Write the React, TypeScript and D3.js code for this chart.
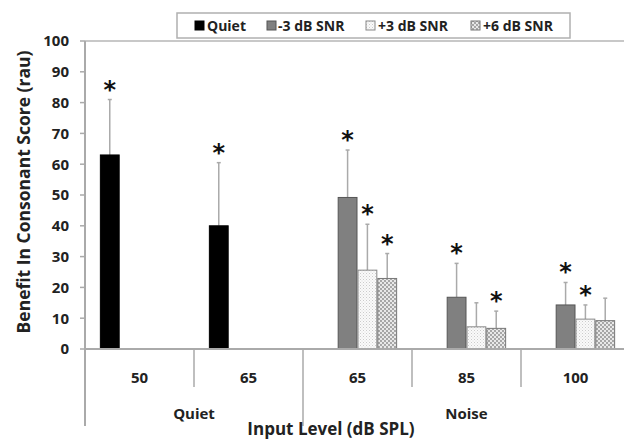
import React from "react";
import * as d3 from "d3";

const categories = ["50", "65", "65", "85", "100"];
const groups = [
  { label: "Quiet", from: 0, to: 2 },
  { label: "Noise", from: 2, to: 5 },
];
const seriesNames = ["Quiet", "-3 dB SNR", "+3 dB SNR", "+6 dB SNR"];
// values per category, per series (null = none)
const quietVals = [63, 40, null, null, null];
const snrM3Vals = [null, null, 49.2, 16.8, 14.3];
const snrP3Vals = [null, null, 25.6, 7.2, 9.7];
const snrP6Vals = [null, null, 22.9, 6.7, 9.2];
const quietErr = [18, 20.5, null, null, null];
const snrM3Err = [null, null, 15.4, 11, 7.3];
const snrP3Err = [null, null, 14.9, 7.8, 4.6];
const snrP6Err = [null, null, 8.1, 5.6, 7.3];
const quietSig = [true, true, false, false, false];
const snrM3Sig = [false, false, true, true, true];
const snrP3Sig = [false, false, true, false, true];
const snrP6Sig = [false, false, true, true, false];
const yTicks = [0, 10, 20, 30, 40, 50, 60, 70, 80, 90, 100];

const FONT = "'Open Sans', sans-serif";

export default function App() {
  const W = 624, H = 439;
  const x0 = 85, catW = 109;
  const x = d3.scaleBand<string>().domain(categories.map((_, i) => String(i))).range([x0, x0 + catW * 5]).paddingInner(0).paddingOuter(0);
  const xs = d3.scaleBand<string>().domain(seriesNames).range([0, catW]).paddingOuter(0.75).paddingInner(0);
  const y = d3.scaleLinear().domain([0, 100]).range([349, 41]);
  const vals = [quietVals, snrM3Vals, snrP3Vals, snrP6Vals];
  const errs = [quietErr, snrM3Err, snrP3Err, snrP6Err];
  const sigs = [quietSig, snrM3Sig, snrP3Sig, snrP6Sig];
  const fills = ["#000", "#808080", "url(#pLight)", "url(#pDots)"];
  const strokes = ["#000", "#555", "#888", "#777"];
  const axisCol = "#aaa";
  const txt = "#222";

  const legendItems = [
    { name: "Quiet", sx: 195, tx: 207 },
    { name: "-3 dB SNR", sx: 267, tx: 278 },
    { name: "+3 dB SNR", sx: 366, tx: 378 },
    { name: "+6 dB SNR", sx: 471, tx: 483 },
  ];

  return (
    <svg width={W} height={H} style={{ position: "absolute", left: 0, top: 0, background: "#fff" }} fontFamily={FONT}>
      <defs>
        <pattern id="pLight" width="3" height="3" patternUnits="userSpaceOnUse">
          <rect width="3" height="3" fill="#fafafa" />
          <rect x="0" y="0" width="1" height="1" fill="#ccc" />
          <rect x="1.5" y="1.5" width="1" height="1" fill="#ddd" />
        </pattern>
        <pattern id="pDots" width="4" height="4" patternUnits="userSpaceOnUse">
          <rect width="4" height="4" fill="#e8e8e8" />
          <circle cx="1" cy="1" r="0.9" fill="#888" />
          <circle cx="3" cy="3" r="0.9" fill="#888" />
        </pattern>
      </defs>
      <rect width={W} height={H} fill="#fff" />
      {/* top border line */}
      <line x1={x0} x2={W} y1={y(100)} y2={y(100)} stroke="#c8c8c8" strokeWidth={2} />
      {/* y axis */}
      <line x1={x0} x2={x0} y1={y(100)} y2={426} stroke={axisCol} strokeWidth={2} />
      {yTicks.map((t) => (
        <g key={t}>
          <line x1={x0 - 5} x2={x0} y1={y(t)} y2={y(t)} stroke={axisCol} strokeWidth={1.5} />
          <text x={69} y={y(t)} dy="0.36em" textAnchor="end" fontSize={15} fontWeight="bold" fill={txt}>{t}</text>
        </g>
      ))}
      <text transform={`translate(30,${192}) rotate(-90)`} textAnchor="middle" fontSize={17.5} fontWeight="bold" fill={txt}>Benefit In Consonant Score (rau)</text>
      {/* bars */}
      {categories.map((c, ci) =>
        seriesNames.map((s, si) => {
          const v = vals[si][ci];
          if (v == null) return null;
          const bx = (x(String(ci)) as number) + (xs(s) as number);
          const bw = xs.bandwidth();
          const cx = bx + bw / 2;
          const e = errs[si][ci] as number;
          const ty = y(v + e);
          return (
            <g key={ci + "-" + si}>
              <line x1={cx} x2={cx} y1={y(v)} y2={ty} stroke="#aaa" strokeWidth={1.5} />
              <line x1={cx - 2} x2={cx + 2} y1={ty} y2={ty} stroke="#aaa" strokeWidth={1.5} />
              <rect x={bx + 0.5} y={y(v)} width={bw - 1} height={y(0) - y(v)} fill={fills[si]} stroke={strokes[si]} strokeWidth={1} />
              {sigs[si][ci] && (
                <text x={cx} y={ty - 2} textAnchor="middle" fontSize={24} fontWeight="bold" fill="#111" fontFamily="'DejaVu Sans', sans-serif">*</text>
              )}
            </g>
          );
        })
      )}
      {/* x axis */}
      <line x1={x0} x2={W} y1={y(0)} y2={y(0)} stroke={axisCol} strokeWidth={2} />
      {categories.map((c, ci) => {
        const left = x(String(ci)) as number;
        const isGroupEdge = groups.some((g) => g.from === ci);
        return (
          <g key={ci}>
            {ci > 0 && <line x1={left} x2={left} y1={y(0)} y2={isGroupEdge ? 426 : 387} stroke={axisCol} strokeWidth={1.5} />}
            <text x={left + catW / 2} y={378} dy="0.36em" textAnchor="middle" fontSize={15} fontWeight="bold" fill={txt}>{c}</text>
          </g>
        );
      })}
      {groups.map((g) => {
        const a = x(String(g.from)) as number;
        const b = a + catW * (g.to - g.from);
        return (
          <text key={g.label} x={(a + b) / 2} y={414} dy="0.36em" textAnchor="middle" fontSize={15} fontWeight="bold" fill={txt}>{g.label}</text>
        );
      })}
      <text x={331} y={435} textAnchor="middle" fontSize={17} fontWeight="bold" fill={txt}>Input Level (dB SPL)</text>
      {/* legend */}
      <rect x={177} y={13} width={393} height={25} fill="#fff" stroke="#b0b0b0" strokeWidth={1.5} />
      {legendItems.map((it, i) => (
        <g key={it.name}>
          <rect x={it.sx} y={21} width={9} height={9} fill={fills[i]} stroke={strokes[i]} strokeWidth={1} />
          <text x={it.tx} y={25.5} dy="0.36em" fontSize={14} fontWeight="bold" fill={txt}>{seriesNames[i]}</text>
        </g>
      ))}
    </svg>
  );
}
